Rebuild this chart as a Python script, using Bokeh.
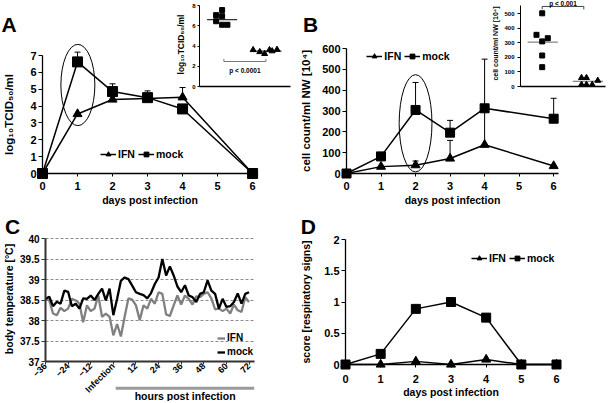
import math
from bokeh.plotting import figure
from bokeh.models import Range1d, FixedTicker, Legend, LegendItem, GridBox
from bokeh.core.properties import value
from bokeh.embed import file_html
from bokeh.resources import INLINE

# ---------------- data ----------------
day_ticks = [0, 1, 2, 3, 4, 5, 6]
days = [0, 1, 2, 3, 4, 6]

# A: virus titre
titer_ticks = [0, 1, 2, 3, 4, 5, 6, 7]
titer_ifn = [0, 3.53, 4.39, 4.45, 4.52, 0]
titer_mock = [0, 6.62, 4.86, 4.5, 3.83, 0]
titer_err_day = [1, 2, 3, 4]
titer_err_from = [6.62, 4.86, 4.5, 4.52]
titer_err_to = [7.2, 5.32, 4.9, 5.1]
titer_circle = [1.01, 5.25, 0.97, 4.82]          # x, y, width, height

# A inset: day-1 titres of single animals
titer_inset_ticks = [0, 2, 4, 6, 8]
titer_d1_mock_x = [1.0, 0.865, 1.0, 0.865, 1.0, 1.12]
titer_d1_mock = [7.55, 7.05, 6.95, 6.45, 6.1, 6.1]
titer_d1_ifn_x = [1.70, 1.85, 1.96, 2.07, 2.13, 2.24]
titer_d1_ifn = [3.62, 3.42, 3.23, 3.62, 3.5, 3.65]
titer_d1_group = [1, 2]
titer_d1_median = [6.6, 3.5]
titer_d1_bracket = [1.04, 1.99, 2.47]
titer_d1_p = "p < 0.0001"

# B: cell counts
cell_ticks = [0, 100, 200, 300, 400, 500, 600]
cells_ifn = [0, 33, 40, 72, 138, 36]
cells_mock = [0, 82, 305, 196, 313, 263]
cells_err_day = [1, 2, 2, 3, 3, 4, 6]
cells_err_from = [82, 40, 305, 72, 196, 138, 263]
cells_err_to = [100, 60, 437, 159, 255, 549, 361]
cells_circle = [2.0, 241, 0.95, 467]

# B inset: day-2 cell counts of single animals
cell_inset_ticks = [0, 100, 200, 300, 400, 500]
cells_d2_mock_x = [0.993, 0.867, 0.993, 1.117, 0.993, 0.993]
cells_d2_mock = [503, 355, 310, 332, 213, 133]
cells_d2_ifn_x = [1.863, 1.973, 2.223, 1.863, 1.973, 2.10]
cells_d2_ifn = [60, 60, 41, 13, 13, 13]
cells_d2_group = [1, 2]
cells_d2_median = [305, 36]
cells_d2_bracket = [0.993, 1.914, 550]
cells_d2_p = "p < 0.001"

# C: body temperature
hour_ticks = [-36, -24, -12, 0, 12, 24, 36, 48, 60, 72]
temp_ticks = [37, 37.5, 38, 38.5, 39, 39.5, 40]
hours = [-36, -34, -32, -30, -28, -26, -24, -22, -20, -18, -16, -14, -12, -10, -8, -6, -4, -2,
         0, 2, 4, 6, 8, 10, 12, 14, 16, 18, 20, 22, 24, 26, 28, 30, 32, 34, 36, 38, 40,
         42, 44, 46, 48, 50, 52, 54, 56, 58, 60, 62, 64, 66, 68, 70, 72]
temp_mock = [38.53, 38.58, 38.35, 38.46, 38.41, 38.73, 38.70, 38.35, 38.41, 38.29, 38.54, 38.53,
             38.61, 38.50, 38.65, 38.78, 38.49, 38.78, 38.13, 38.53, 38.97, 39.05, 39.01, 38.85,
             38.69, 38.65, 38.62, 38.54, 38.67, 38.89, 39.05, 39.50, 39.10, 39.32, 39.10, 38.83,
             38.69, 38.86, 38.61, 38.57, 38.45, 38.65, 38.69, 38.98, 38.73, 38.65, 38.29, 38.53,
             38.33, 38.35, 38.45, 38.66, 38.41, 38.65, 38.69]
temp_ifn = [38.53, 38.49, 38.17, 38.13, 38.31, 38.23, 38.29, 38.53, 38.49, 38.41, 37.96, 38.37,
            38.23, 38.29, 38.61, 38.09, 38.17, 38.09, 37.64, 37.91, 37.61, 38.09, 38.54, 38.51,
            38.37, 38.01, 38.37, 38.29, 38.53, 38.41, 38.69, 38.65, 38.15, 38.11, 38.37, 38.61,
            38.39, 38.61, 38.53, 38.39, 38.59, 38.57, 38.65, 38.69, 38.54, 38.27, 38.29, 38.23,
            38.29, 38.17, 38.39, 38.25, 38.21, 38.57, 38.45]
hpi_bar = [2.3, 74.9]

# D: respiratory score
score_days = [0, 1, 2, 3, 4, 5, 6]
score_ticks = [0, 0.5, 1, 1.5, 2]
score_ifn = [0, 0, 0.05, 0, 0.08, 0, 0]
score_mock = [0, 0.17, 0.89, 1.0, 0.75, 0, 0]

# ---------------- layout helpers ----------------
FONT = "Liberation Sans"
LV = "annotation"


def fs(v):
    return f"{v:.1f}px"


def make_fig(rect, frame, xr, yr, transparent=False, axes=True):
    x0, y0, x1, y1 = [round(v) for v in rect]
    fx0, fy0, fx1, fy1 = [round(v) for v in frame]
    kw = {} if axes else dict(x_axis_location=None, y_axis_location=None)
    p = figure(width=x1 - x0, height=y1 - y0,
               x_range=Range1d(*xr), y_range=Range1d(*yr),
               output_backend="svg", toolbar_location=None,
               min_border_left=fx0 - x0, min_border_right=x1 - fx1,
               min_border_top=fy0 - y0, min_border_bottom=y1 - fy1, **kw)
    p.outline_line_color = None
    p.xgrid.visible = False
    p.ygrid.visible = False
    if transparent:
        p.background_fill_alpha = 0
        p.border_fill_alpha = 0
    return p


def style_axis(ax, ticks, tick_font, title=None, title_font=11, tick_out=4,
               label_standoff=2, title_standoff=2, line_width=1.3, color="black"):
    ax.ticker = FixedTicker(ticks=ticks)
    ax.axis_label = title
    ax.axis_line_color = color
    ax.axis_line_width = line_width
    ax.major_tick_line_color = color
    ax.major_tick_line_width = 1
    ax.major_tick_in = 0
    ax.major_tick_out = tick_out
    ax.minor_tick_line_color = None
    ax.major_label_text_font = FONT
    ax.major_label_text_font_style = "bold"
    ax.major_label_text_font_size = fs(tick_font)
    ax.major_label_text_color = "black"
    ax.major_label_standoff = label_standoff
    ax.axis_label_text_font = FONT
    ax.axis_label_text_font_style = "bold"
    ax.axis_label_text_font_size = fs(title_font)
    ax.axis_label_text_color = "black"
    ax.axis_label_standoff = title_standoff


def data_xy(px, py, frame, xr, yr):
    fx0, fy0, fx1, fy1 = frame
    return (xr[0] + (px - fx0) / (fx1 - fx0) * (xr[1] - xr[0]),
            yr[0] + (fy1 - py) / (fy1 - fy0) * (yr[1] - yr[0]))


def letter(p, txt, px, py_mid, frame, xr, yr):
    x, y = data_xy(px, py_mid, frame, xr, yr)
    p.text(x=[x], y=[y], text=[txt], text_font=value(FONT), text_font_style="bold",
           text_font_size=fs(21), text_baseline="middle", text_align="left",
           text_color="black", level=LV)


def add_legend(p, items, px, py_bottom, frame, orientation="horizontal", glyph_width=16,
               spacing=3, font=10.5):
    fx0, fy0, fx1, fy1 = frame
    loc = (px - fx0, fy1 - py_bottom)
    leg = Legend(items=[LegendItem(label=l, renderers=r) for l, r in items],
                 location=loc, orientation=orientation, padding=0, margin=0, spacing=spacing,
                 border_line_color=None, background_fill_alpha=0,
                 glyph_width=glyph_width, glyph_height=12, label_height=12, label_width=0,
                 label_standoff=2, label_text_font=FONT, label_text_font_style="bold",
                 label_text_font_size=fs(font), label_text_color="black")
    p.add_layout(leg)


def time_course(p, x, ifn, mock, err_x, err_from, err_to, circle, sq=9):
    if err_x:
        p.segment(x0=err_x, y0=err_from, x1=err_x, y1=err_to, line_color="black", line_width=1, level=LV)
        p.scatter(err_x, err_to, marker="dash", size=6, line_color="black", line_width=1, level=LV)
    if circle is not None:
        p.ellipse(x=[circle[0]], y=[circle[1]], width=[circle[2]], height=[circle[3]],
                  fill_color=None, line_color="black", line_width=1, level=LV)
    l1 = p.line(x, ifn, line_color="black", line_width=1.5, level=LV)
    l2 = p.line(x, mock, line_color="black", line_width=1.5, level=LV)
    m1 = p.scatter(x, ifn, marker="triangle", size=9, color="black", level=LV)
    m2 = p.scatter(x, mock, marker="square", size=sq, color="black", level=LV)
    return [("IFN", [l1, m1]), ("mock", [l2, m2])]


# ---------------- panel A ----------------
A_rect, A_frame, A_xr, A_yr = (0, 0, 297, 212), (42, 55, 257, 173), (0, 6.14), (0, 7)
pA = make_fig(A_rect, A_frame, A_xr, A_yr)
style_axis(pA.xaxis[0], day_ticks, 11, "days post infection", 10.5, tick_out=3, label_standoff=5, title_standoff=1)
style_axis(pA.yaxis[0], titer_ticks, 11, "log₁₀TCID₅₀/ml", 11.5, tick_out=4, label_standoff=2, title_standoff=12)
itemsA = time_course(pA, days, titer_ifn, titer_mock, titer_err_day, titer_err_from, titer_err_to,
                     titer_circle, sq=10)
add_legend(pA, itemsA, 100, 159.5, A_frame)
letter(pA, "A", 1, 23.5, A_frame, A_xr, A_yr)

# ---------------- panel A inset ----------------
Ai_rect, Ai_frame, Ai_xr, Ai_yr = (170, 0, 297, 92), (199, 2, 290, 86), (0.49, 2.544), (0, 8.3)
pAi = make_fig(Ai_rect, Ai_frame, Ai_xr, Ai_yr, transparent=True)
style_axis(pAi.xaxis[0], [], 6, None, tick_out=0, line_width=1.3)
style_axis(pAi.yaxis[0], titer_inset_ticks, 6, "log₁₀TCID₅₀/ml", 8.5, tick_out=2,
           label_standoff=2, title_standoff=3, line_width=1)
pAi.yaxis[0].bounds = (0, 8)
pAi.segment(x0=[g - 0.34 for g in titer_d1_group], y0=titer_d1_median,
            x1=[g + 0.34 for g in titer_d1_group], y1=titer_d1_median, line_color="black", line_width=1)
pAi.scatter(titer_d1_mock_x, titer_d1_mock, marker="square", size=5, color="black")
pAi.scatter(titer_d1_ifn_x, titer_d1_ifn, marker="triangle", size=6, color="black")
bx0, bx1, by = titer_d1_bracket
pAi.segment(x0=[bx0, bx0, bx1], y0=[by, by, by], x1=[bx1, bx0, bx1], y1=[by, by + 0.25, by + 0.25],
            line_color="#777777", line_width=1)
pAi.text(x=[(bx0 + bx1) / 2], y=[by - 0.9], text=[titer_d1_p], text_font=value(FONT),
         text_font_style="bold", text_font_size=fs(6.5), text_align="center",
         text_baseline="middle", text_color="black")

# ---------------- panel B ----------------
B_rect, B_frame, B_xr, B_yr = (297, 0, 606, 212), (343, 48, 558, 173), (0, 6.14), (0, 600)
pB = make_fig(B_rect, B_frame, B_xr, B_yr)
style_axis(pB.xaxis[0], day_ticks, 11, "days post infection", 10.5, tick_out=3, label_standoff=5, title_standoff=1)
style_axis(pB.yaxis[0], cell_ticks, 11, "cell count/ml NW [10⁴]", 11.5, tick_out=4, label_standoff=2, title_standoff=7)
itemsB = time_course(pB, days, cells_ifn, cells_mock, cells_err_day, cells_err_from, cells_err_to,
                     cells_circle)
add_legend(pB, itemsB, 363.3, 62, B_frame)
letter(pB, "B", 299, 23.5, B_frame, B_xr, B_yr)

# ---------------- panel B inset ----------------
Bi_rect, Bi_frame, Bi_xr, Bi_yr = (470, 0, 606, 92), (520, 0, 605, 86), (0.513, 2.394), (0, 591)
pBi = make_fig(Bi_rect, Bi_frame, Bi_xr, Bi_yr, transparent=True)
style_axis(pBi.xaxis[0], [], 6, None, tick_out=0, line_width=1.3)
style_axis(pBi.yaxis[0], cell_inset_ticks, 6, "cell count/ml NW [10⁴]", 7, tick_out=3,
           label_standoff=3, title_standoff=2, line_width=1)
pBi.yaxis[0].bounds = (0, 557)
pBi.segment(x0=[g - 0.33 for g in cells_d2_group], y0=cells_d2_median,
            x1=[g + 0.34 for g in cells_d2_group], y1=cells_d2_median, line_color="#666666", line_width=1)
pBi.scatter(cells_d2_mock_x, cells_d2_mock, marker="square", size=5, color="black")
pBi.scatter(cells_d2_ifn_x, cells_d2_ifn, marker="triangle", size=6, color="black")
cx0, cx1, cy = cells_d2_bracket
pBi.segment(x0=[cx0, cx0, cx1], y0=[cy, cy, cy], x1=[cx1, cx0, cx1], y1=[cy, cy - 20, cy - 20],
            line_color="#444444", line_width=1)
pBi.text(x=[(cx0 + cx1) / 2], y=[cy + 23], text=[cells_d2_p], text_font=value(FONT),
         text_font_style="bold", text_font_size=fs(6.5), text_align="center",
         text_baseline="middle", text_color="black")

# ---------------- panel C ----------------
C_rect, C_frame, C_xr, C_yr = (0, 212, 297, 401), (42, 236, 254, 364), (-36, 74.9), (37, 40.05)
pC = make_fig(C_rect, C_frame, C_xr, C_yr)
style_axis(pC.xaxis[0], hour_ticks, 9, None, tick_out=3, label_standoff=0, line_width=2, color="#333333")
pC.xaxis[0].major_label_orientation = math.pi / 4
pC.xaxis[0].major_label_overrides = {0: "Infection"}
style_axis(pC.yaxis[0], temp_ticks, 10, "body temperature [°C]", 10.5, tick_out=4,
           label_standoff=2, title_standoff=2, line_width=2, color="#333333")
pC.yaxis[0].major_label_overrides = {37: "37", 38: "38", 39: "39", 40: "40"}
pC.yaxis[0].bounds = (37, 40)
pC.ygrid.visible = True
pC.ygrid.ticker = FixedTicker(ticks=temp_ticks[1:])
pC.ygrid.grid_line_color = "#8c8c8c"
pC.ygrid.grid_line_dash = "3 2"
pC.ygrid.grid_line_width = 1
lC1 = pC.line(hours, temp_ifn, line_color="#808080", line_width=2.3)
lC2 = pC.line(hours, temp_mock, line_color="black", line_width=2.3)
add_legend(pC, [("IFN", [lC1]), ("mock", [lC2])], 214, 360.5, C_frame,
           orientation="vertical", glyph_width=8, spacing=2, font=10)
letter(pC, "C", 1, 225.5, C_frame, C_xr, C_yr)

# "hours post infection" bar below panel C (same hour scale)
Cb_frame, Cb_yr = (42, 380, 254, 401), (0, 1)
pCb = make_fig(C_rect, Cb_frame, C_xr, Cb_yr, transparent=True, axes=False)
_, bar_y = data_xy(0, 387.7, Cb_frame, C_xr, Cb_yr)
_, txt_y = data_xy(0, 395.5, Cb_frame, C_xr, Cb_yr)
pCb.segment(x0=[hpi_bar[0]], y0=[bar_y], x1=[hpi_bar[1]], y1=[bar_y], line_color="#9a9a9a", line_width=3)
pCb.text(x=[(hpi_bar[0] + hpi_bar[1]) / 2], y=[txt_y], text=["hours post infection"],
         text_font=value(FONT), text_font_style="bold", text_font_size=fs(10.5),
         text_align="center", text_baseline="middle", text_color="black")

# ---------------- panel D ----------------
D_rect, D_frame, D_xr, D_yr = (297, 212, 606, 401), (344, 239, 556, 364), (0, 6), (0, 2)
pD = make_fig(D_rect, D_frame, D_xr, D_yr)
style_axis(pD.xaxis[0], day_ticks, 11, "days post infection", 10.5, tick_out=3, label_standoff=7, title_standoff=0)
style_axis(pD.yaxis[0], score_ticks, 11, "score [respiratory signs]", 10.5, tick_out=4,
           label_standoff=2, title_standoff=9)
pD.yaxis[0].major_label_overrides = {0: "0", 1: "1", 2: "2"}
itemsD = time_course(pD, score_days, score_ifn, score_mock, [], [], [], None)
add_legend(pD, itemsD, 470, 263.7, D_frame)
letter(pD, "D", 299, 225.5, D_frame, D_xr, D_yr)

# ---------------- assemble: every child gets its own grid lines (0px tracks) ----------------
placed = [(pA, A_rect), (pAi, Ai_rect), (pB, B_rect), (pBi, Bi_rect),
          (pC, C_rect), (pCb, C_rect), (pD, D_rect)]
col_b, row_b = [], []
for i, (_, (x0, y0, x1, y1)) in enumerate(placed):
    col_b += [(round(x0), 0, i), (round(x1), 1, i)]
    row_b += [(round(y0), 0, i), (round(y1), 1, i)]
col_b.sort()
row_b.sort()
cols = [f"{col_b[k + 1][0] - col_b[k][0]}px" for k in range(len(col_b) - 1)]
rows = [f"{row_b[k + 1][0] - row_b[k][0]}px" for k in range(len(row_b) - 1)]
children = []
for i, (fig, _) in enumerate(placed):
    c0 = col_b.index(next(b for b in col_b if b[1] == 0 and b[2] == i))
    c1 = col_b.index(next(b for b in col_b if b[1] == 1 and b[2] == i))
    r0 = row_b.index(next(b for b in row_b if b[1] == 0 and b[2] == i))
    r1 = row_b.index(next(b for b in row_b if b[1] == 1 and b[2] == i))
    children.append((fig, r0, c0, r1 - r0, c1 - c0))
grid = GridBox(children=children, rows=rows, cols=cols, spacing=0)

open("out.html", "w").write(file_html(grid, INLINE))
